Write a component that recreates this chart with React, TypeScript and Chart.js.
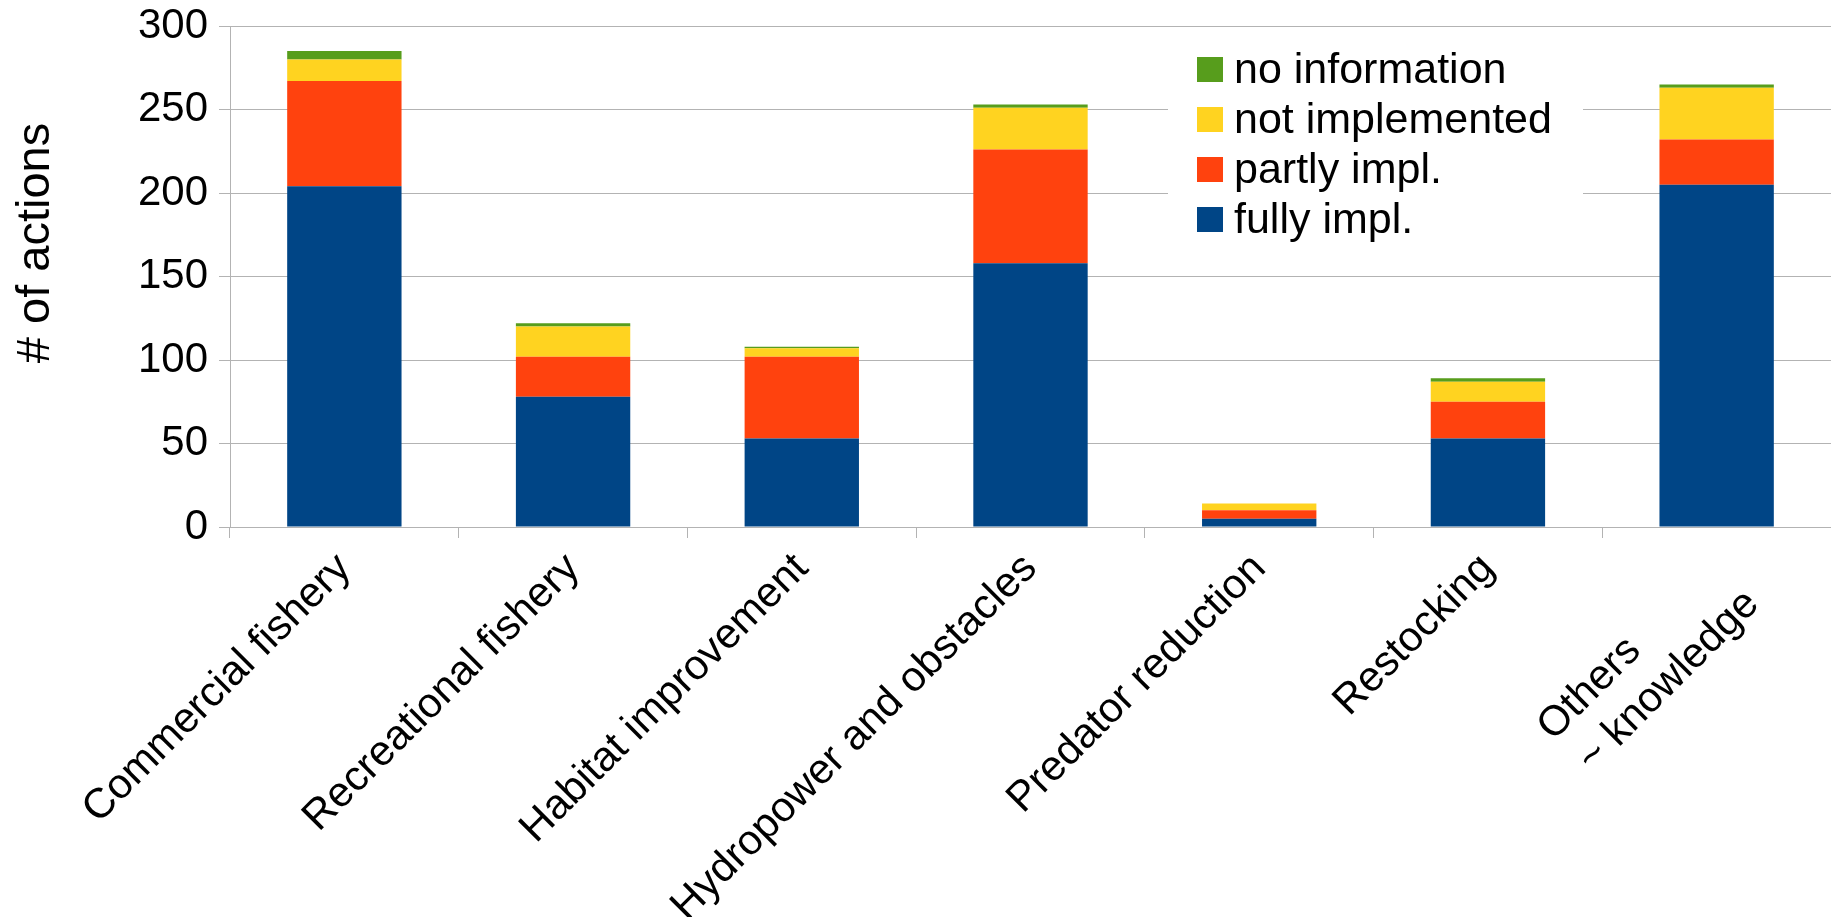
import React, { useEffect, useRef } from "react";
import { Chart, registerables } from "chart.js";

Chart.register(...registerables);

// ---- data ----
const categories: (string | string[])[] = [
  "Commercial fishery",
  "Recreational fishery",
  "Habitat improvement",
  "Hydropower and obstacles",
  "Predator reduction",
  "Restocking",
  ["Others", "~ knowledge"],
];
const fullyImpl = [204, 78, 53, 158, 5, 53, 205];
const partlyImpl = [63, 24, 49, 68, 5, 22, 27];
const notImplemented = [13, 18, 5, 25, 4, 12, 31];
const noInformation = [5, 2, 1, 2, 0, 2, 2];
const seriesLabels = ["fully impl.", "partly impl.", "not implemented", "no information"];
const seriesColors = ["#004586", "#ff420e", "#ffd320", "#579d1c"];
const yTicks = [0, 50, 100, 150, 200, 250, 300];
const yTitle = "# of actions";

const W = 1831;
const H = 917;
const TICK_FONT = 42;
const LEGEND_FONT = 43;
const TITLE_FONT = 47;
const FONT_FAMILY = '"Liberation Sans", Arial, sans-serif';
const GRID = "#b3b3b3";

const measureCtx = typeof document !== "undefined" ? document.createElement("canvas").getContext("2d") : null;

function leftAlignLines(lab: string | string[]): string | string[] {
  if (!Array.isArray(lab) || !measureCtx) return lab;
  measureCtx.font = `${TICK_FONT}px ${FONT_FAMILY}`;
  const widths = lab.map((s) => measureCtx.measureText(s).width);
  const max = Math.max(...widths);
  const sp = measureCtx.measureText(" ").width;
  return lab.map((s, k) => s + " ".repeat(Math.round((max - widths[k]) / sp)));
}

const legendPlugin = {
  id: "boxLegend",
  beforeDatasetsDraw(chart: any) {
    const ctx = chart.ctx;
    ctx.save();
    ctx.fillStyle = "#ffffff";
    ctx.fillRect(1168, 40, 415, 208);
    ctx.restore();
  },
  afterDraw(chart: any) {
    const ctx = chart.ctx;
    ctx.save();
    const ds = [...chart.data.datasets].reverse();
    ds.forEach((d: any, i: number) => {
      const y = 57 + i * 50;
      ctx.fillStyle = d.backgroundColor;
      ctx.fillRect(1197, y, 26, 25);
      ctx.fillStyle = "#000";
      ctx.font = `${LEGEND_FONT}px ${FONT_FAMILY}`;
      ctx.textBaseline = "alphabetic";
      ctx.textAlign = "left";
      ctx.fillText(d.label, 1234, y + 26);
    });
    // y axis title
    ctx.translate(36, 243);
    ctx.rotate(-Math.PI / 2);
    ctx.textAlign = "center";
    ctx.textBaseline = "middle";
    ctx.fillStyle = "#000";
    ctx.font = `${TITLE_FONT}px ${FONT_FAMILY}`;
    ctx.fillText(yTitle, 0, 0);
    ctx.restore();
  },
};

export default function App() {
  const ref = useRef<HTMLCanvasElement | null>(null);

  useEffect(() => {
    if (!ref.current) return;
    const values = [fullyImpl, partlyImpl, notImplemented, noInformation];
    const chart = new Chart(ref.current, {
      type: "bar",
      data: {
        labels: categories as any,
        datasets: values.map((v, i) => ({
          label: seriesLabels[i],
          data: v,
          backgroundColor: seriesColors[i],
          borderWidth: 0,
          categoryPercentage: 1,
          barPercentage: 0.5,
        })),
      },
      options: {
        responsive: false,
        animation: false,
        layout: { padding: { top: 26, right: 0, bottom: 0, left: 0 } },
        plugins: {
          legend: { display: false },
          tooltip: { enabled: false },
        },
        font: { family: FONT_FAMILY, size: TICK_FONT },
        scales: {
          x: {
            stacked: true,
            grid: {
              display: true,
              drawOnChartArea: false,
              drawTicks: true,
              tickLength: 11,
              color: GRID,
              offset: true,
            },
            border: { display: true, color: GRID, width: 1 },
            ticks: {
              autoSkip: false,
              minRotation: 45,
              maxRotation: 45,
              padding: 6,
              color: "#000",
              font: { family: FONT_FAMILY, size: TICK_FONT },
              callback: (_v: any, i: number) => leftAlignLines(categories[i]),
            },
            afterFit: (scale: any) => {
              scale.height = H - 527;
              scale.paddingLeft = 0;
              scale.paddingRight = 0;
            },
          },
          y: {
            stacked: true,
            min: 0,
            max: 300,
            afterBuildTicks: (scale: any) => {
              scale.ticks = yTicks.map((v) => ({ value: v }));
            },
            grid: { color: GRID, tickLength: 11, drawTicks: true },
            border: { display: true, color: GRID, width: 1 },
            ticks: {
              padding: 11,
              color: "#000",
              font: { family: FONT_FAMILY, size: TICK_FONT },
            },
            afterFit: (scale: any) => {
              scale.width = 230;
              scale.paddingTop = 0;
              scale.paddingBottom = 0;
            },
          },
        },
      },
      plugins: [legendPlugin],
    } as any);
    return () => chart.destroy();
  }, []);

  return (
    <div style={{ position: "fixed", left: 0, top: 0, width: W, height: H, background: "#fff" }}>
      <canvas ref={ref} width={W} height={H} style={{ display: "block", width: W, height: H }} />
    </div>
  );
}
